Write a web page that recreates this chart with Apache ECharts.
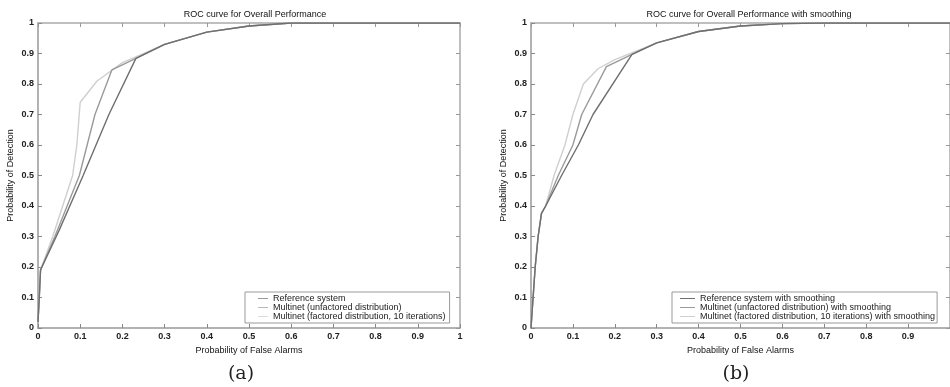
<!DOCTYPE html>
<html>
<head>
<meta charset="utf-8">
<script src="https://cdn.jsdelivr.net/npm/echarts@6/dist/echarts.min.js"></script>
<style>
  html, body { margin: 0; padding: 0; background: #fff; }
  #chart { width: 950px; height: 387px; }
</style>
</head>
<body>
<div id="chart"></div>
<script>
// (a) without smoothing, points are [false alarm, detection]
const refSystem = [[0, 0.02], [0.003, 0.1], [0.006, 0.19], [0.05, 0.32], [0.107, 0.5], [0.168, 0.7], [0.232, 0.884], [0.3, 0.93], [0.4, 0.97], [0.5, 0.99], [0.6, 1], [1, 1]];
const unfactored = [[0, 0.02], [0.003, 0.1], [0.006, 0.19], [0.04, 0.3], [0.098, 0.5], [0.135, 0.7], [0.175, 0.846], [0.232, 0.884], [0.3, 0.93], [0.4, 0.97], [0.5, 0.99], [0.6, 1], [1, 1]];
const factored = [[0, 0.02], [0.003, 0.1], [0.006, 0.19], [0.035, 0.3], [0.082, 0.5], [0.092, 0.6], [0.1, 0.74], [0.14, 0.81], [0.2, 0.87], [0.3, 0.93], [0.4, 0.97], [0.5, 0.99], [0.6, 1], [1, 1]];

// (b) with smoothing
const refSmooth = [[0, 0], [0.005, 0.1], [0.01, 0.2], [0.017, 0.3], [0.025, 0.376], [0.035, 0.4], [0.073, 0.5], [0.113, 0.6], [0.148, 0.7], [0.241, 0.897], [0.3, 0.935], [0.4, 0.972], [0.5, 0.99], [0.6, 0.998], [0.7, 1], [1, 1]];
const unfactoredSmooth = [[0, 0], [0.005, 0.1], [0.01, 0.2], [0.017, 0.3], [0.025, 0.376], [0.035, 0.4], [0.065, 0.5], [0.1, 0.6], [0.121, 0.7], [0.18, 0.857], [0.241, 0.897], [0.3, 0.935], [0.4, 0.972], [0.5, 0.99], [0.6, 0.998], [0.7, 1], [1, 1]];
const factoredSmooth = [[0, 0], [0.005, 0.1], [0.01, 0.2], [0.017, 0.3], [0.025, 0.376], [0.035, 0.4], [0.055, 0.5], [0.081, 0.6], [0.1, 0.7], [0.125, 0.8], [0.16, 0.85], [0.2, 0.88], [0.3, 0.935], [0.4, 0.972], [0.5, 0.99], [0.6, 0.998], [0.7, 1], [1, 1]];

const namesA = ['Reference system', 'Multinet (unfactored distribution)', 'Multinet (factored distribution, 10 iterations)'];
const namesB = ['Reference system with smoothing', 'Multinet (unfactored distribution) with smoothing', 'Multinet (factored distribution, 10 iterations) with smoothing'];
const lineColors = ['#6f6f6f', '#9a9a9a', '#cfcfcf'];

const font = 'Liberation Sans, Arial, sans-serif';
const fmt = v => (v === 0 || v === 1) ? String(v) : v.toFixed(1);

const chart = echarts.init(document.getElementById('chart'));

function mainX(gridIndex, showMax) {
    return {
        type: 'value', gridIndex, min: 0, max: 1, interval: 0.1,
        name: 'Probability of False Alarms', nameLocation: 'middle', nameGap: 18,
        nameTextStyle: { fontFamily: font, fontSize: 9, color: '#111' },
        axisLine: { onZero: false, lineStyle: { color: '#999', width: 1.5 } },
        axisTick: { inside: true, length: 4, lineStyle: { color: '#888' } },
        axisLabel: { formatter: fmt, showMaxLabel: showMax, fontFamily: font, fontSize: 9, fontWeight: 'bold', color: '#222', margin: 4 },
        splitLine: { show: false }
    };
}
function mainY(gridIndex) {
    return {
        type: 'value', gridIndex, min: 0, max: 1, interval: 0.1,
        name: 'Probability of Detection', nameLocation: 'middle', nameGap: 23,
        nameTextStyle: { fontFamily: font, fontSize: 9, color: '#111' },
        axisLine: { onZero: false, lineStyle: { color: '#999', width: 1.5 } },
        axisTick: { inside: true, length: 4, lineStyle: { color: '#888' } },
        axisLabel: { formatter: fmt, fontFamily: font, fontSize: 9, fontWeight: 'bold', color: '#222', margin: 4 },
        splitLine: { show: false }
    };
}
// box edges on top / right with inward ticks, no labels
function boxAxis(gridIndex, position) {
    return {
        type: 'value', gridIndex, position, min: 0, max: 1, interval: 0.1,
        axisLine: { show: true, onZero: false, lineStyle: { color: '#aaa', width: 1.5 } },
        axisTick: { show: true, inside: true, length: 4, lineStyle: { color: '#999' } },
        axisLabel: { show: false },
        splitLine: { show: false }
    };
}

function lineSeries(name, data, i, axisIndex) {
    return {
        name, type: 'line', data,
        xAxisIndex: axisIndex, yAxisIndex: axisIndex,
        symbol: 'none', animation: false,
        lineStyle: { color: lineColors[i], width: 1.4 },
        itemStyle: { color: lineColors[i] },
        z: 5 - i
    };
}

const legendBase = {
    orient: 'vertical', top: 292,
    icon: 'path://M0,0 H20 V1.4 H0 Z',
    itemWidth: 12, itemHeight: 10, itemGap: 0,
    borderColor: '#999', borderWidth: 1, borderRadius: 0,
    backgroundColor: '#fff',
    textStyle: { fontFamily: font, fontSize: 9, color: '#222' },
    selectedMode: false
};

const option = {
    backgroundColor: '#fff',
    animation: false,
    title: [
        { text: 'ROC curve for Overall Performance', left: 250, top: 5, textAlign: 'center',
          textStyle: { fontFamily: font, fontSize: 9, fontWeight: 'normal', color: '#111' } },
        { text: 'ROC curve for Overall Performance with smoothing', left: 744, top: 5, textAlign: 'center',
          textStyle: { fontFamily: font, fontSize: 9, fontWeight: 'normal', color: '#111' } },
        { text: '(a)', left: 236, top: 360, textAlign: 'center',
          textStyle: { fontFamily: 'DejaVu Serif, Liberation Serif, serif', fontSize: 19, fontWeight: 'normal', color: '#222' } },
        { text: '(b)', left: 731, top: 360, textAlign: 'center',
          textStyle: { fontFamily: 'DejaVu Serif, Liberation Serif, serif', fontSize: 19, fontWeight: 'normal', color: '#222' } }
    ],
    grid: [
        { left: 38, top: 23, width: 422, height: 305 },
        { left: 531, top: 23, width: 420, height: 305 }
    ],
    xAxis: [mainX(0, true), mainX(1, false), boxAxis(0, 'top'), boxAxis(1, 'top')],
    yAxis: [mainY(0), mainY(1), boxAxis(0, 'right'), boxAxis(1, 'right')],
    legend: [
        Object.assign({}, legendBase, { left: 245, data: namesA, padding: [2, 4, 2, 13], itemWidth: 10 }),
        Object.assign({}, legendBase, { left: 672, data: namesB, padding: [2, 2, 2, 8], itemWidth: 15 })
    ],
    series: [
        lineSeries(namesA[0], refSystem, 0, 0),
        lineSeries(namesA[1], unfactored, 1, 0),
        lineSeries(namesA[2], factored, 2, 0),
        lineSeries(namesB[0], refSmooth, 0, 1),
        lineSeries(namesB[1], unfactoredSmooth, 1, 1),
        lineSeries(namesB[2], factoredSmooth, 2, 1)
    ]
};

chart.setOption(option);
</script>
</body>
</html>
